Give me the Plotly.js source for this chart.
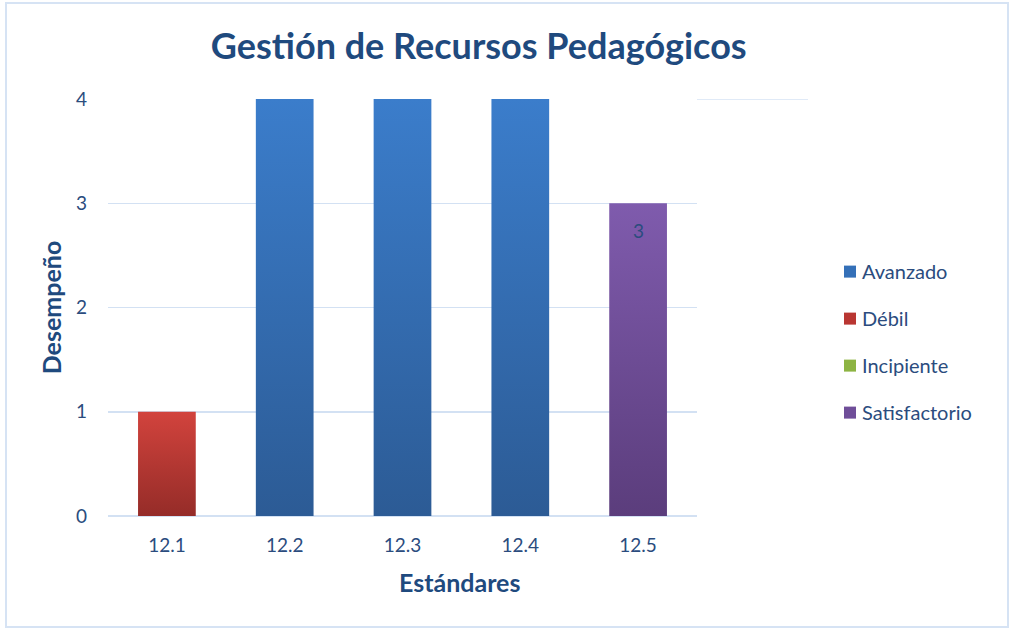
<!DOCTYPE html>
<html><head><meta charset="utf-8">
<script src="https://cdn.plot.ly/plotly-3.0.1.min.js"></script>
<style>
html,body{margin:0;padding:0;background:#fff;}
#wrap{position:relative;width:1010px;height:629px;overflow:hidden;}
#chart{position:absolute;left:0;top:0;width:1010px;height:629px;}
#frame{position:absolute;left:5px;top:2px;width:1000px;height:622px;border:2px solid #D6E3F4;pointer-events:none;}
</style></head>
<body>
<div id="wrap"><div id="chart"></div><div id="frame"></div></div>
<script>
const categories = ["12.1","12.2","12.3","12.4","12.5"];
const avanzado = [null, 4, 4, 4, null];
const debil = [1, null, null, null, null];
const incipiente = [null, null, null, null, null];
const satisfactorio = [null, null, null, null, 3];
const yTicks = [0, 1, 2, 3, 4];

const txt = '#2B4C7E';
const font = 'Lato, "Open Sans", sans-serif';

function tr(name, y, color) {
  return {
    type: 'bar', name: name, x: categories, y: y,
    marker: {color: color, line: {width: 0}},
    legendgroup: name, hoverinfo: 'x+y+name'
  };
}

const data = [
  tr('Avanzado', avanzado, '#3470B8'),
  tr('Débil', debil, '#B93632'),
  tr('Incipiente', incipiente, '#8DB443'),
  tr('Satisfactorio', satisfactorio, '#6F4E99')
];

// data label for the Satisfactorio bar, placed from its own value (category index on x)
const labelAnn = satisfactorio.map(function(v, i){
  return v == null ? null : {x: i, y: v, xref: 'x', yref: 'y', text: String(v), showarrow: false,
    yanchor: 'top', yshift: -14, font: {family: font, size: 19, color: txt}};
}).filter(Boolean);

const layout = {
  width: 1010, height: 629,
  margin: {l: 108, r: 313, t: 99, b: 113},
  paper_bgcolor: 'rgba(0,0,0,0)', plot_bgcolor: 'rgba(0,0,0,0)',
  barmode: 'relative', bargap: 0.51,
  font: {family: font, color: txt, size: 18},
  title: {text: 'Gestión de Recursos Pedagógicos', font: {family: font, size: 36, color: '#1F4A7E', weight: 'bold'},
    xref: 'container', x: 0.474, xanchor: 'center', yref: 'container', y: 1 - 46/629, yanchor: 'middle'},
  xaxis: {type: 'category', range: [-0.5, categories.length - 0.5], showgrid: false, zeroline: false, showline: false, ticks: '',
    tickfont: {family: font, size: 19, color: txt}, ticklabelstandoff: 16},
  yaxis: {range: [0, 4], tickvals: yTicks, ticktext: yTicks.map(String), showgrid: true, gridcolor: '#D3E1F3', gridwidth: 1.5,
    zeroline: true, zerolinecolor: '#D3E1F3', zerolinewidth: 1.5, showline: false, ticks: '',
    tickfont: {family: font, size: 19, color: txt}, ticklabelstandoff: 20,
    title: {text: 'Desempeño', font: {family: font, size: 25, color: '#1F4A7E', weight: 'bold'}, standoff: 7}},
  annotations: labelAnn.concat([
    {text: 'Estándares', xref: 'paper', yref: 'paper', x: (459-108)/589, y: -(582-516)/417, xanchor: 'center', yanchor: 'middle',
      showarrow: false, font: {family: font, size: 25, color: '#1F4A7E', weight: 'bold'}}
  ]),
  shapes: [
    {type: 'line', xref: 'paper', yref: 'y', x0: 1, x1: (808-108)/589, y0: yTicks[yTicks.length-1], y1: yTicks[yTicks.length-1],
      line: {color: '#D6E3F4', width: 1.5}, layer: 'below'}
  ],
  showlegend: true,
  legend: {x: (830-108)/589, xanchor: 'left', y: 0.417, yanchor: 'middle', traceorder: 'grouped', tracegroupgap: 18,
    font: {family: font, size: 20, color: txt}, itemwidth: 30, bgcolor: 'rgba(0,0,0,0)'}
};

Plotly.newPlot('chart', data, layout, {displayModeBar: false, staticPlot: true}).then(function(gd){
  const svg = gd.querySelector('svg.main-svg');
  const ns = 'http://www.w3.org/2000/svg';
  let defs = svg.querySelector('defs');
  if (!defs) { defs = document.createElementNS(ns, 'defs'); svg.insertBefore(defs, svg.firstChild); }
  const grads = [['gA','#3B7DCB','#2C5B95'],['gD','#D2433D','#952C28'],['gI','#95BD4A','#6E9334'],['gS','#7F5BAD','#5B3D7C']];
  grads.forEach(function(g){
    const lg = document.createElementNS(ns, 'linearGradient');
    lg.setAttribute('id', g[0]); lg.setAttribute('x1','0'); lg.setAttribute('y1','0'); lg.setAttribute('x2','0'); lg.setAttribute('y2','1');
    const s1 = document.createElementNS(ns, 'stop'); s1.setAttribute('offset','0'); s1.setAttribute('stop-color', g[1]);
    const s2 = document.createElementNS(ns, 'stop'); s2.setAttribute('offset','1'); s2.setAttribute('stop-color', g[2]);
    lg.appendChild(s1); lg.appendChild(s2); defs.appendChild(lg);
  });
  gd.querySelectorAll('.barlayer .trace').forEach(function(t, i){
    t.querySelectorAll('path').forEach(function(p){ p.style.fill = 'url(#' + grads[i][0] + ')'; });
  });
  gd.querySelectorAll('.legend .legendtext').forEach(function(t){
    t.setAttribute('x', String(parseFloat(t.getAttribute('x')) - 8));
  });
});
</script>
</body></html>
